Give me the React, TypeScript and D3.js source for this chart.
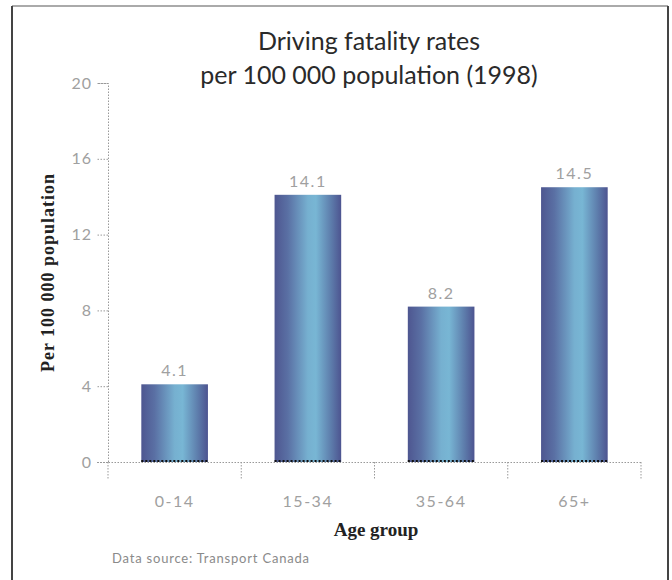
import React, { useEffect, useRef } from "react";
import * as d3 from "d3";

const ageGroups = ["0-14", "15-34", "35-64", "65+"];
const rates = [4.1, 14.1, 8.2, 14.5];
const yTicks = [0, 4, 8, 12, 16, 20];

const W = 672;
const H = 580;
const left = 108;
const right = 641;
const top = 83;
const bottom = 462;

const tickFont = "Lato, sans-serif";

const AxisY = ({ scale }: { scale: d3.ScaleLinear<number, number> }) => {
  const ref = useRef<SVGGElement>(null);
  useEffect(() => {
    const g = d3.select(ref.current);
    g.call(d3.axisLeft(scale).tickValues(yTicks).tickSize(11).tickPadding(5));
    g.select(".domain").attr("stroke", "#999").attr("stroke-dasharray", "1.5,1.5");
    g.selectAll(".tick line").attr("stroke", "#999").attr("stroke-dasharray", "1.5,1.5");
    g.selectAll(".tick text")
      .attr("fill", "#a0a0a0")
      .attr("font-family", tickFont)
      .attr("font-size", 16)
      .attr("letter-spacing", 1);
  });
  return <g ref={ref} transform={`translate(${left},0)`} />;
};

const AxisX = ({ scale }: { scale: d3.ScaleBand<string> }) => {
  const ref = useRef<SVGGElement>(null);
  useEffect(() => {
    const g = d3.select(ref.current);
    g.call(d3.axisBottom(scale).tickSize(0).tickPadding(34));
    g.select(".domain").attr("stroke", "#999").attr("stroke-dasharray", "1.5,1.5");
    g.selectAll(".tick text")
      .attr("fill", "#a0a0a0")
      .attr("font-family", tickFont)
      .attr("font-size", 16)
      .attr("letter-spacing", 1.5);
  });
  return <g ref={ref} transform={`translate(0,${bottom})`} />;
};

export default function App() {
  const x = d3
    .scaleBand<string>()
    .domain(ageGroups)
    .range([left, right])
    .paddingInner(0.5)
    .paddingOuter(0.25);
  const y = d3.scaleLinear().domain([0, 20]).range([bottom, top]);
  const step = x.step();
  const boundaries = d3.range(ageGroups.length + 1).map(i => left + i * step);

  return (
    <svg width={W} height={H} style={{ position: "absolute", left: 0, top: 0, background: "#fff" }}>
      <defs>
        <linearGradient id="barFill" x1="0" x2="1" y1="0" y2="0">
          <stop offset="0" stopColor="#4e5690" />
          <stop offset="0.2" stopColor="#5a70a4" />
          <stop offset="0.5" stopColor="#76b0d0" />
          <stop offset="0.62" stopColor="#78b6d4" />
          <stop offset="0.85" stopColor="#5d7cab" />
          <stop offset="1" stopColor="#4d5490" />
        </linearGradient>
      </defs>
      <line x1={12} y1={6} x2={668} y2={6} stroke="#aaa" strokeWidth={2} />
      <line x1={12} y1={6} x2={12} y2={H} stroke="#444" strokeWidth={2} />
      <line x1={668} y1={6} x2={668} y2={H} stroke="#444" strokeWidth={2} />

      <text x={369} y={50} textAnchor="middle" fontFamily="Lato, sans-serif" fontSize={25} fill="#2a2a2a">
        Driving fatality rates
      </text>
      <text x={369} y={84} textAnchor="middle" fontFamily="Lato, sans-serif" fontSize={25} fill="#2a2a2a">
        per 100 000 population (1998)
      </text>

      <AxisY scale={y} />
      <AxisX scale={x} />
      {boundaries.map((b, i) => (
        <line key={i} x1={b} x2={b} y1={bottom} y2={bottom + 18} stroke="#999" strokeDasharray="1.5,1.5" />
      ))}

      {ageGroups.map((g, i) => (
        <g key={g}>
          <rect
            x={x(g)}
            y={y(rates[i])}
            width={x.bandwidth()}
            height={bottom - y(rates[i])}
            fill="url(#barFill)"
          />
          <line
            x1={x(g)}
            x2={(x(g) as number) + x.bandwidth()}
            y1={bottom - 1}
            y2={bottom - 1}
            stroke="#111"
            strokeWidth={2}
            strokeDasharray="2,2"
          />
          <text
            x={(x(g) as number) + x.bandwidth() / 2}
            y={y(rates[i]) - 8}
            textAnchor="middle"
            fontFamily={tickFont}
            fontSize={16}
            letterSpacing={1.5}
            fill="#a0a0a0"
          >
            {rates[i]}
          </text>
        </g>
      ))}

      <text
        transform={`translate(54,${(top + bottom) / 2}) rotate(-90)`}
        textAnchor="middle"
        fontFamily="Liberation Serif, serif"
        fontWeight="bold"
        fontSize={18}
        letterSpacing={1}
        fill="#222"
      >
        Per 100 000 population
      </text>
      <text x={376} y={536} textAnchor="middle" fontFamily="Liberation Serif, serif" fontWeight="bold" fontSize={19} fill="#222">
        Age group
      </text>
      <text x={112} y={563} fontFamily={tickFont} fontSize={13} letterSpacing={0.8} fill="#8a8a8a">
        Data source: Transport Canada
      </text>
    </svg>
  );
}
